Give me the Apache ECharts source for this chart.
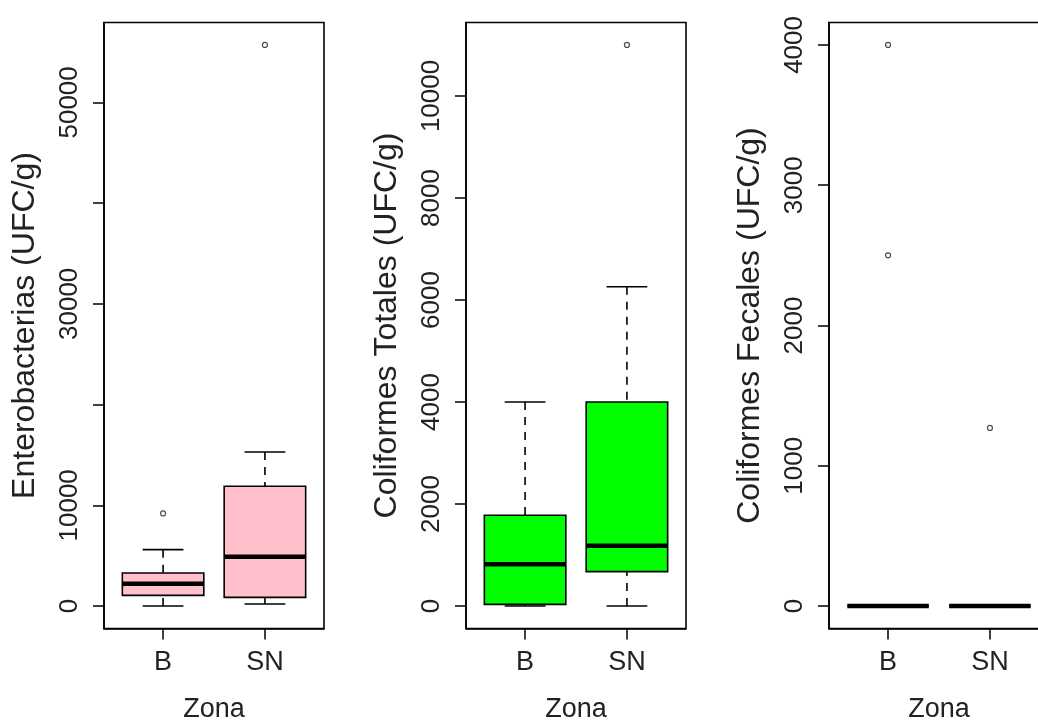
<!DOCTYPE html>
<html><head><meta charset="utf-8">
<script src="https://cdn.jsdelivr.net/npm/echarts@6/dist/echarts.min.js"></script>
<style>html,body{margin:0;padding:0;background:#fff}#c{width:1038px;height:721px}</style>
</head><body><div id="c"></div>
<script>
// ---- data ----
const categories = ['B', 'SN'];
// each box: [lower whisker, Q1, median, Q3, upper whisker]
const enteroBoxes = [[0, 1060, 2220, 3280, 5600], [200, 860, 4900, 11900, 15300]];
const enteroOutliers = [[1, 9200], [2, 55700]];
const enteroTicks = [0, 10000, 20000, 30000, 40000, 50000];
const enteroLabels = [0, 10000, 30000, 50000];

const totBoxes = [[0, 33, 820, 1780, 4000], [0, 675, 1180, 4000, 6260]];
const totOutliers = [[2, 11000]];
const totTicks = [0, 2000, 4000, 6000, 8000, 10000];
const totLabels = [0, 2000, 4000, 6000, 8000, 10000];

const fecBoxes = [[0, 0, 0, 0, 0], [0, 0, 0, 0, 0]];
const fecOutliers = [[1, 4000], [1, 2500], [2, 1270]];
const fecTicks = [0, 1000, 2000, 3000, 4000];
const fecLabels = [0, 1000, 2000, 3000, 4000];

const yTitles = ['Enterobacterias (UFC/g)', 'Coliformes Totales (UFC/g)', 'Coliformes Fecales (UFC/g)'];
const xTitle = 'Zona';
const fills = ['#FFC0CB', '#00FF00', '#FFFFFF'];

// ---- build ----
const FONT = 'Liberation Sans, Arial, sans-serif';
const TXT = '#222';
const panels = [
  {boxes: enteroBoxes, out: enteroOutliers, ticks: enteroTicks, labels: enteroLabels},
  {boxes: totBoxes, out: totOutliers, ticks: totTicks, labels: totLabels},
  {boxes: fecBoxes, out: fecOutliers, ticks: fecTicks, labels: fecLabels}
];
const gridLefts = [104, 466, 829];

function rRange(p) {
  let lo = Infinity, hi = -Infinity;
  p.boxes.forEach(b => b.forEach(v => { lo = Math.min(lo, v); hi = Math.max(hi, v); }));
  p.out.forEach(o => { lo = Math.min(lo, o[1]); hi = Math.max(hi, o[1]); });
  const d = (hi - lo) * 0.04;
  return [lo - d, hi + d];
}

function renderBox(fill) {
  return function (params, api) {
    const x = api.value(0);
    const pLo = api.coord([x, api.value(1)]);
    const pQ1 = api.coord([x, api.value(2)]);
    const pMed = api.coord([x, api.value(3)]);
    const pQ3 = api.coord([x, api.value(4)]);
    const pHi = api.coord([x, api.value(5)]);
    const w = api.size([0.8, 0])[0];
    const sw = w / 2;
    const cx = pMed[0];
    const stroke = '#000';
    return {
      type: 'group',
      children: [
        {type: 'line', shape: {x1: cx, y1: pHi[1], x2: cx, y2: pQ3[1]}, style: {stroke, lineWidth: 1.6, lineDash: [8, 7]}},
        {type: 'line', shape: {x1: cx, y1: pLo[1], x2: cx, y2: pQ1[1]}, style: {stroke, lineWidth: 1.6, lineDash: [8, 7]}},
        {type: 'line', shape: {x1: cx - sw / 2, y1: pHi[1], x2: cx + sw / 2, y2: pHi[1]}, style: {stroke, lineWidth: 1.6}},
        {type: 'line', shape: {x1: cx - sw / 2, y1: pLo[1], x2: cx + sw / 2, y2: pLo[1]}, style: {stroke, lineWidth: 1.6}},
        {type: 'rect', shape: {x: cx - w / 2, y: pQ3[1], width: w, height: pQ1[1] - pQ3[1]}, style: {fill, stroke, lineWidth: 1.6}},
        {type: 'line', shape: {x1: cx - w / 2, y1: pMed[1], x2: cx + w / 2, y2: pMed[1]}, style: {stroke, lineWidth: 4.5}}
      ]
    };
  };
}

const grid = [], xAxis = [], yAxis = [], series = [];
panels.forEach((p, i) => {
  const r = rRange(p);
  grid.push({left: gridLefts[i], top: 22.5, width: 220, height: 606, show: true, borderColor: '#000', borderWidth: 1.6,
    backgroundColor: 'transparent', outerBoundsMode: 'none', containLabel: false});
  xAxis.push({
    gridIndex: i, type: 'value', min: 0.42, max: 2.58,
    splitLine: {show: false},
    axisLine: {show: true, onZero: false, lineStyle: {color: '#000', width: 1.6}},
    axisTick: {show: true, length: 11, lineStyle: {color: '#000', width: 1.5}, customValues: [1, 2]},
    axisLabel: {customValues: [1, 2], formatter: v => categories[Math.round(v) - 1] || '', fontSize: 27, color: TXT, fontFamily: FONT, margin: 21},
    name: xTitle, nameLocation: 'middle', nameGap: 68,
    nameTextStyle: {fontSize: 27, color: TXT, fontFamily: FONT}
  });
  yAxis.push({
    gridIndex: i, type: 'value', min: r[0], max: r[1],
    splitLine: {show: false},
    axisLine: {show: true, onZero: false, lineStyle: {color: '#000', width: 1.6}},
    axisTick: {show: true, length: 11, lineStyle: {color: '#000', width: 1.5}, customValues: p.ticks},
    axisLabel: {customValues: p.labels, rotate: 90, fontSize: 26, color: TXT, fontFamily: FONT, margin: 21,
      formatter: v => String(Math.round(v))},
    name: yTitles[i], nameLocation: 'middle', nameRotate: 90, nameGap: 63,
    nameTextStyle: {fontSize: 32, color: TXT, fontFamily: FONT}
  });
  series.push({
    type: 'custom', xAxisIndex: i, yAxisIndex: i,
    renderItem: renderBox(fills[i]),
    encode: {x: 0, y: [1, 2, 3, 4, 5]},
    data: p.boxes.map((b, k) => [k + 1].concat(b)),
    clip: false
  });
  series.push({
    type: 'scatter', xAxisIndex: i, yAxisIndex: i,
    symbol: 'circle', symbolSize: 5,
    itemStyle: {color: 'rgba(255,255,255,0)', borderColor: '#222', borderWidth: 1.2},
    data: p.out, z: 5
  });
});

const chart = echarts.init(document.getElementById('c'), null, {renderer: 'canvas'});
chart.setOption({animation: false, backgroundColor: '#fff', grid, xAxis, yAxis, series});
</script></body></html>
